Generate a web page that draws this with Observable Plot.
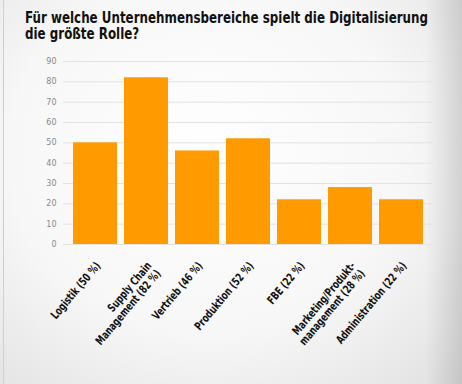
<!DOCTYPE html>
<html><head><meta charset="utf-8">
<script src="https://cdn.jsdelivr.net/npm/d3@7"></script>
<script src="https://cdn.jsdelivr.net/npm/@observablehq/plot@0.6"></script>
<style>
html,body{margin:0;padding:0;}
body{width:462px;height:384px;overflow:hidden;position:relative;
  background: linear-gradient(to right, rgba(0,0,0,0) 0%, rgba(0,0,0,0) 92%, rgba(0,0,0,0.12) 100%), radial-gradient(ellipse at 45% 40%, #ffffff 0%, #f7f7f7 55%, #e0e0e0 100%);}
#frame{position:absolute;left:3px;top:0;width:1px;height:384px;background:#cfcfcf;}
#title{position:absolute;left:25px;top:10px;font-family:"DejaVu Sans";font-weight:bold;font-size:16.5px;line-height:16px;color:#111;white-space:nowrap;transform-origin:0 0;}
#title span{display:block;}
#chart{position:absolute;left:0;top:50px;}
</style></head><body>
<div id="frame"></div>
<div id="title"><span id="t1">Für welche Unternehmensbereiche spielt die Digitalisierung</span><span>die größte Rolle?</span></div>
<div id="chart"></div>
<script>
const categories = ["Logistik (50 %)", "Supply Chain\nManagement (82 %)", "Vertrieb (46 %)", "Produktion (52 %)", "FBE (22 %)", "Marketing/Produkt-\nmanagement (28 %)", "Administration (22 %)"];
const values = [50, 82, 46, 52, 22, 28, 22];
const yTicks = [0, 10, 20, 30, 40, 50, 60, 70, 80, 90];
const data = categories.map((c, i) => ({category: c, value: values[i]}));
const chart = Plot.plot({
  width: 462, height: 334, marginTop: 11, marginBottom: 140, marginLeft: 63, marginRight: 29,
  style: {background: "transparent", overflow: "visible"},
  x: {domain: categories, padding: 0.13, axis: null},
  y: {domain: [0, 90]},
  marks: [
    Plot.gridY(yTicks, {stroke: "#e2e2e2", strokeOpacity: 1}),
    Plot.axisY(yTicks, {tickSize: 0, tickPadding: 7, fontSize: 8, fill: "#888", label: null, fontFamily: "DejaVu Sans"}),
    Plot.barY(data, {x: "category", y: "value", fill: "#FF9A00"}),
    Plot.text(data, {x: "category", text: "category", frameAnchor: "bottom", rotate: -50, textAnchor: "end", lineAnchor: "top", dy: 16, dx: -1, fontSize: 11.5, fontWeight: "bold", fontFamily: "DejaVu Sans", lineHeight: 1.05, fill: "#111"})
  ]
});
chart.querySelectorAll("text[transform*='rotate']").forEach(t => {
  t.setAttribute("transform", t.getAttribute("transform") + " scale(0.72,1)");
});
document.getElementById("chart").appendChild(chart);
const t1 = document.getElementById("t1");
const w = t1.getBoundingClientRect().width;
document.getElementById("title").style.transform = `scaleX(${403 / w})`;
</script>
</body></html>
